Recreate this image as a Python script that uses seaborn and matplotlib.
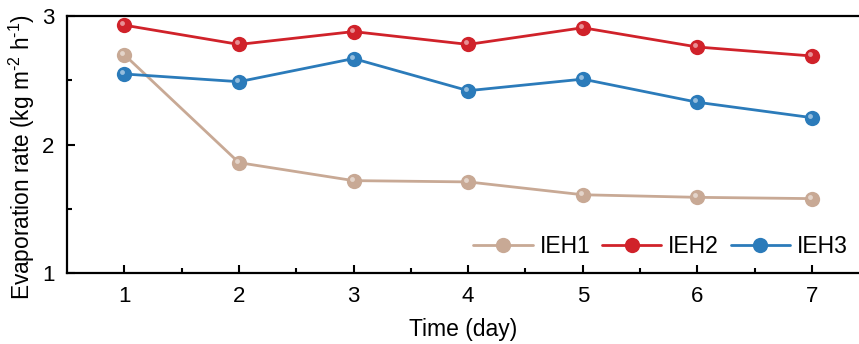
import pandas as pd
import numpy as np
import matplotlib
matplotlib.use("Agg")
import matplotlib.pyplot as plt
import matplotlib.transforms as mtransforms
import seaborn as sns

days = [1, 2, 3, 4, 5, 6, 7]
ieh1 = [2.70, 1.86, 1.72, 1.71, 1.61, 1.59, 1.58]
ieh2 = [2.93, 2.78, 2.88, 2.78, 2.91, 2.76, 2.69]
ieh3 = [2.55, 2.49, 2.67, 2.42, 2.51, 2.33, 2.21]
names = ["IEH1", "IEH2", "IEH3"]
colors = ["#c8a995", "#d0222a", "#2b7bba"]

df = pd.DataFrame({"day": days, "IEH1": ieh1, "IEH2": ieh2, "IEH3": ieh3})
long_df = df.melt(id_vars="day", var_name="sample", value_name="rate")

sns.set_style("ticks")
plt.rcParams["font.family"] = ["Liberation Sans", "DejaVu Sans"]
plt.rcParams["mathtext.fontset"] = "custom"
plt.rcParams["mathtext.rm"] = "Liberation Sans"
plt.rcParams["mathtext.it"] = "Liberation Sans"
plt.rcParams["text.color"] = "black"
plt.rcParams["axes.labelcolor"] = "black"
plt.rcParams["xtick.color"] = "black"
plt.rcParams["ytick.color"] = "black"

fig = plt.figure(figsize=(8.59, 3.44), dpi=100)
ax = fig.add_axes([0.078, 0.206, 0.922, 0.747])

sns.lineplot(data=long_df, x="day", y="rate", hue="sample", hue_order=names,
             palette=colors, marker="o", markersize=11, markeredgewidth=0,
             linewidth=2, ax=ax, legend=False)

# small highlight on each marker to mimic the shaded balls
offset = mtransforms.ScaledTranslation(-2 / 100, 2 / 100, fig.dpi_scale_trans)
for name in names:
    ax.plot(df["day"], df[name], linestyle="none", marker="o", markersize=3.5,
            markeredgewidth=0, color="white", alpha=0.5,
            transform=ax.transData + offset)

ax.set_xlim(0.5, 7.41)
ax.set_ylim(1, 3)
ax.set_xticks(days)
ax.set_yticks([1, 2, 3])
ax.set_xticks(np.arange(1.5, 7.0, 1), minor=True)
ax.set_yticks([1.5, 2.5], minor=True)
ax.tick_params(axis="both", which="major", direction="in", length=6, width=1.5,
               labelsize=16, pad=9)
ax.tick_params(axis="both", which="minor", direction="in", length=3.5, width=1.5)

for side in ["left", "bottom", "top"]:
    ax.spines[side].set_linewidth(1.6)
    ax.spines[side].set_color("black")
ax.spines["right"].set_visible(False)

ax.set_xlabel("Time (day)", fontsize=16.5, labelpad=8)
ax.set_ylabel("Evaporation rate (kg m$^{\u20102}$ h$^{\u20101}$)", fontsize=16.3)
ax.yaxis.set_label_coords(-0.038, 0.45)

handles = [plt.Line2D([], [], color=c, linewidth=2, marker="o", markersize=11,
                      markeredgewidth=0) for c in colors]
ax.legend(handles, names, loc="lower right", bbox_to_anchor=(1.012, -0.02), ncol=3,
          frameon=False, fontsize=16.5, handlelength=2.6, columnspacing=0.5,
          handletextpad=0.3)

fig.savefig("out.png", dpi=100)
